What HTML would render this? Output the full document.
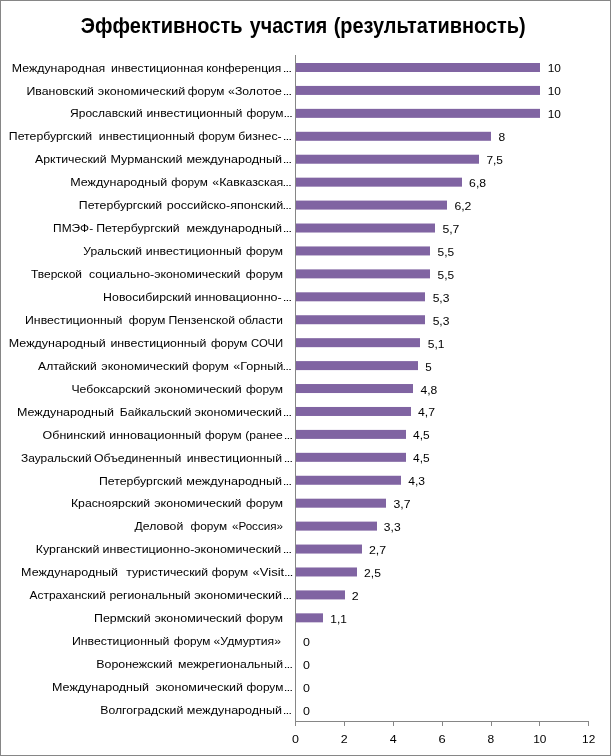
<!DOCTYPE html>
<html lang="ru"><head><meta charset="utf-8"><title>Эффективность участия (результативность)</title>
<style>html,body{margin:0;padding:0;background:#fff}svg{display:block}text{white-space:pre;font-family:"Liberation Sans",Arial,sans-serif;fill:#000}.l{font-size:10.8px}.e{font-size:7.5px;font-weight:bold}.t{font-size:21.3px;font-weight:bold}</style></head><body>
<svg width="611" height="756" viewBox="0 0 611 756">
<rect x="0" y="0" width="611" height="756" fill="#fff"/>
<rect x="0.5" y="0.5" width="610" height="755" fill="none" stroke="#868686" stroke-width="1"/>
<!-- title -->
<text class="t" y="33"><tspan x="80.79" textLength="161.75" lengthAdjust="spacingAndGlyphs">Эффективность</tspan> <tspan x="249.80" textLength="77.43" lengthAdjust="spacingAndGlyphs">участия</tspan> <tspan x="333.67" textLength="191.95" lengthAdjust="spacingAndGlyphs">(результативность)</tspan></text>
<!-- bars -->
<g fill="#8064a2">
<rect x="296" y="63.00" width="244" height="9"/>
<rect x="296" y="85.93" width="244" height="9"/>
<rect x="296" y="108.86" width="244" height="9"/>
<rect x="296" y="131.79" width="195" height="9"/>
<rect x="296" y="154.72" width="183" height="9"/>
<rect x="296" y="177.66" width="166" height="9"/>
<rect x="296" y="200.59" width="151" height="9"/>
<rect x="296" y="223.52" width="139" height="9"/>
<rect x="296" y="246.45" width="134" height="9"/>
<rect x="296" y="269.38" width="134" height="9"/>
<rect x="296" y="292.31" width="129" height="9"/>
<rect x="296" y="315.24" width="129" height="9"/>
<rect x="296" y="338.17" width="124" height="9"/>
<rect x="296" y="361.10" width="122" height="9"/>
<rect x="296" y="384.03" width="117" height="9"/>
<rect x="296" y="406.97" width="115" height="9"/>
<rect x="296" y="429.90" width="110" height="9"/>
<rect x="296" y="452.83" width="110" height="9"/>
<rect x="296" y="475.76" width="105" height="9"/>
<rect x="296" y="498.69" width="90" height="9"/>
<rect x="296" y="521.62" width="81" height="9"/>
<rect x="296" y="544.55" width="66" height="9"/>
<rect x="296" y="567.48" width="61" height="9"/>
<rect x="296" y="590.41" width="49" height="9"/>
<rect x="296" y="613.34" width="27" height="9"/>
</g>
<!-- axes -->
<g fill="#868686">
<rect x="295" y="55" width="1" height="671"/>
<rect x="295" y="721" width="294" height="1"/>
<rect x="344" y="721" width="1" height="5"/>
<rect x="393" y="721" width="1" height="5"/>
<rect x="442" y="721" width="1" height="5"/>
<rect x="491" y="721" width="1" height="5"/>
<rect x="539" y="721" width="1" height="5"/>
<rect x="588" y="721" width="1" height="5"/>
</g>
<!-- category labels, value labels -->
<g>
<text class="l" y="72"><tspan x="11.84" textLength="93.46" lengthAdjust="spacingAndGlyphs">Международная</tspan> <tspan x="110.99" textLength="92.40" lengthAdjust="spacingAndGlyphs">инвестиционная</tspan> <tspan x="206.15" textLength="75.04" lengthAdjust="spacingAndGlyphs">конференция</tspan> <tspan class="e" x="282.98" textLength="8.85" lengthAdjust="spacingAndGlyphs">…</tspan></text>
<text class="l" x="547.70" y="72" textLength="13.21" lengthAdjust="spacingAndGlyphs">10</text>
</g>
<g>
<text class="l" y="95"><tspan x="26.54" textLength="67.41" lengthAdjust="spacingAndGlyphs">Ивановский</tspan> <tspan x="97.77" textLength="87.35" lengthAdjust="spacingAndGlyphs">экономический</tspan> <tspan x="187.70" textLength="36.59" lengthAdjust="spacingAndGlyphs">форум</tspan> <tspan x="228.14" textLength="53.66" lengthAdjust="spacingAndGlyphs">«Золотое</tspan> <tspan class="e" x="282.98" textLength="8.85" lengthAdjust="spacingAndGlyphs">…</tspan></text>
<text class="l" x="547.70" y="95" textLength="13.21" lengthAdjust="spacingAndGlyphs">10</text>
</g>
<g>
<text class="l" y="117"><tspan x="70.14" textLength="72.54" lengthAdjust="spacingAndGlyphs">Ярославский</tspan> <tspan x="146.48" textLength="95.93" lengthAdjust="spacingAndGlyphs">инвестиционный</tspan> <tspan x="246.40" textLength="36.95" lengthAdjust="spacingAndGlyphs">форум</tspan> <tspan class="e" x="283.83" textLength="8.85" lengthAdjust="spacingAndGlyphs">…</tspan></text>
<text class="l" x="547.70" y="118" textLength="13.21" lengthAdjust="spacingAndGlyphs">10</text>
</g>
<g>
<text class="l" y="140"><tspan x="8.84" textLength="83.39" lengthAdjust="spacingAndGlyphs">Петербургский</tspan> <tspan x="98.85" textLength="95.93" lengthAdjust="spacingAndGlyphs">инвестиционный</tspan> <tspan x="198.47" textLength="36.59" lengthAdjust="spacingAndGlyphs">форум</tspan> <tspan x="238.28" textLength="43.47" lengthAdjust="spacingAndGlyphs">бизнес-</tspan> <tspan class="e" x="282.98" textLength="8.85" lengthAdjust="spacingAndGlyphs">…</tspan></text>
<text class="l" x="498.60" y="141" textLength="6.70" lengthAdjust="spacingAndGlyphs">8</text>
</g>
<g>
<text class="l" y="163"><tspan x="35.10" textLength="71.51" lengthAdjust="spacingAndGlyphs">Арктический</tspan> <tspan x="110.40" textLength="72.28" lengthAdjust="spacingAndGlyphs">Мурманский</tspan> <tspan x="186.45" textLength="95.58" lengthAdjust="spacingAndGlyphs">международный</tspan> <tspan class="e" x="282.98" textLength="8.85" lengthAdjust="spacingAndGlyphs">…</tspan></text>
<text class="l" x="486.42" y="164" textLength="16.54" lengthAdjust="spacingAndGlyphs">7,5</text>
</g>
<g>
<text class="l" y="186"><tspan x="70.22" textLength="96.99" lengthAdjust="spacingAndGlyphs">Международный</tspan> <tspan x="171.26" textLength="36.59" lengthAdjust="spacingAndGlyphs">форум</tspan> <tspan x="212.25" textLength="71.05" lengthAdjust="spacingAndGlyphs">«Кавказская</tspan> <tspan class="e" x="282.88" textLength="8.85" lengthAdjust="spacingAndGlyphs">…</tspan></text>
<text class="l" x="469.10" y="187" textLength="16.99" lengthAdjust="spacingAndGlyphs">6,8</text>
</g>
<g>
<text class="l" y="209"><tspan x="78.84" textLength="83.39" lengthAdjust="spacingAndGlyphs">Петербургский</tspan> <tspan x="166.76" textLength="116.57" lengthAdjust="spacingAndGlyphs">российско-японский</tspan> <tspan class="e" x="282.88" textLength="8.85" lengthAdjust="spacingAndGlyphs">…</tspan></text>
<text class="l" x="454.45" y="210" textLength="16.99" lengthAdjust="spacingAndGlyphs">6,2</text>
</g>
<g>
<text class="l" y="232"><tspan x="53.07" textLength="40.10" lengthAdjust="spacingAndGlyphs">ПМЭФ-</tspan> <tspan x="96.30" textLength="83.39" lengthAdjust="spacingAndGlyphs">Петербургский</tspan> <tspan x="186.53" textLength="95.51" lengthAdjust="spacingAndGlyphs">международный</tspan> <tspan class="e" x="282.98" textLength="8.85" lengthAdjust="spacingAndGlyphs">…</tspan></text>
<text class="l" x="442.43" y="233" textLength="17.00" lengthAdjust="spacingAndGlyphs">5,7</text>
</g>
<g>
<text class="l" y="255"><tspan x="83.31" textLength="58.71" lengthAdjust="spacingAndGlyphs">Уральский</tspan> <tspan x="145.84" textLength="95.93" lengthAdjust="spacingAndGlyphs">инвестиционный</tspan> <tspan x="246.01" textLength="37.04" lengthAdjust="spacingAndGlyphs">форум</tspan></text>
<text class="l" x="437.55" y="256" textLength="16.56" lengthAdjust="spacingAndGlyphs">5,5</text>
</g>
<g>
<text class="l" y="278"><tspan x="31.01" textLength="50.97" lengthAdjust="spacingAndGlyphs">Тверской</tspan> <tspan x="88.94" textLength="151.34" lengthAdjust="spacingAndGlyphs">социально-экономический</tspan> <tspan x="245.86" textLength="37.19" lengthAdjust="spacingAndGlyphs">форум</tspan></text>
<text class="l" x="437.55" y="279" textLength="16.56" lengthAdjust="spacingAndGlyphs">5,5</text>
</g>
<g>
<text class="l" y="301"><tspan x="103.14" textLength="88.20" lengthAdjust="spacingAndGlyphs">Новосибирский</tspan> <tspan x="194.51" textLength="87.24" lengthAdjust="spacingAndGlyphs">инновационно-</tspan> <tspan class="e" x="282.98" textLength="8.85" lengthAdjust="spacingAndGlyphs">…</tspan></text>
<text class="l" x="432.67" y="302" textLength="16.78" lengthAdjust="spacingAndGlyphs">5,3</text>
</g>
<g>
<text class="l" y="324"><tspan x="25.04" textLength="97.45" lengthAdjust="spacingAndGlyphs">Инвестиционный</tspan> <tspan x="128.82" textLength="36.59" lengthAdjust="spacingAndGlyphs">форум</tspan> <tspan x="168.53" textLength="66.62" lengthAdjust="spacingAndGlyphs">Пензенской</tspan> <tspan x="238.40" textLength="44.60" lengthAdjust="spacingAndGlyphs">области</tspan></text>
<text class="l" x="432.67" y="325" textLength="16.78" lengthAdjust="spacingAndGlyphs">5,3</text>
</g>
<g>
<text class="l" y="347"><tspan x="8.82" textLength="96.99" lengthAdjust="spacingAndGlyphs">Международный</tspan> <tspan x="110.41" textLength="95.93" lengthAdjust="spacingAndGlyphs">инвестиционный</tspan> <tspan x="210.92" textLength="36.59" lengthAdjust="spacingAndGlyphs">форум</tspan> <tspan x="251.13" textLength="32.05" lengthAdjust="spacingAndGlyphs">СОЧИ</tspan></text>
<text class="l" x="427.78" y="348" textLength="16.78" lengthAdjust="spacingAndGlyphs">5,1</text>
</g>
<g>
<text class="l" y="370"><tspan x="38.10" textLength="58.76" lengthAdjust="spacingAndGlyphs">Алтайский</tspan> <tspan x="101.33" textLength="87.35" lengthAdjust="spacingAndGlyphs">экономический</tspan> <tspan x="192.32" textLength="36.59" lengthAdjust="spacingAndGlyphs">форум</tspan> <tspan x="233.22" textLength="50.12" lengthAdjust="spacingAndGlyphs">«Горный</tspan> <tspan class="e" x="282.88" textLength="8.85" lengthAdjust="spacingAndGlyphs">…</tspan></text>
<text class="l" x="425.35" y="371" textLength="6.46" lengthAdjust="spacingAndGlyphs">5</text>
</g>
<g>
<text class="l" y="393"><tspan x="71.45" textLength="78.84" lengthAdjust="spacingAndGlyphs">Чебоксарский</tspan> <tspan x="154.38" textLength="87.35" lengthAdjust="spacingAndGlyphs">экономический</tspan> <tspan x="245.97" textLength="37.08" lengthAdjust="spacingAndGlyphs">форум</tspan></text>
<text class="l" x="420.44" y="394" textLength="16.80" lengthAdjust="spacingAndGlyphs">4,8</text>
</g>
<g>
<text class="l" y="416"><tspan x="16.92" textLength="96.99" lengthAdjust="spacingAndGlyphs">Международный</tspan> <tspan x="119.85" textLength="71.65" lengthAdjust="spacingAndGlyphs">Байкальский</tspan> <tspan x="194.60" textLength="87.43" lengthAdjust="spacingAndGlyphs">экономический</tspan> <tspan class="e" x="282.98" textLength="8.85" lengthAdjust="spacingAndGlyphs">…</tspan></text>
<text class="l" x="417.99" y="416" textLength="17.02" lengthAdjust="spacingAndGlyphs">4,7</text>
</g>
<g>
<text class="l" y="439"><tspan x="42.62" textLength="63.03" lengthAdjust="spacingAndGlyphs">Обнинский</tspan> <tspan x="109.23" textLength="91.90" lengthAdjust="spacingAndGlyphs">инновационный</tspan> <tspan x="204.95" textLength="36.59" lengthAdjust="spacingAndGlyphs">форум</tspan> <tspan x="245.26" textLength="37.53" lengthAdjust="spacingAndGlyphs">(ранее</tspan> <tspan class="e" x="283.98" textLength="8.85" lengthAdjust="spacingAndGlyphs">…</tspan></text>
<text class="l" x="413.11" y="439" textLength="16.59" lengthAdjust="spacingAndGlyphs">4,5</text>
</g>
<g>
<text class="l" y="462"><tspan x="21.03" textLength="70.62" lengthAdjust="spacingAndGlyphs">Зауральский</tspan> <tspan x="93.99" textLength="87.37" lengthAdjust="spacingAndGlyphs">Объединенный</tspan> <tspan x="186.75" textLength="95.27" lengthAdjust="spacingAndGlyphs">инвестиционный</tspan> <tspan class="e" x="283.98" textLength="8.85" lengthAdjust="spacingAndGlyphs">…</tspan></text>
<text class="l" x="413.11" y="462" textLength="16.59" lengthAdjust="spacingAndGlyphs">4,5</text>
</g>
<g>
<text class="l" y="485"><tspan x="98.94" textLength="83.39" lengthAdjust="spacingAndGlyphs">Петербургский</tspan> <tspan x="186.34" textLength="95.70" lengthAdjust="spacingAndGlyphs">международный</tspan> <tspan class="e" x="282.98" textLength="8.85" lengthAdjust="spacingAndGlyphs">…</tspan></text>
<text class="l" x="408.23" y="485" textLength="16.80" lengthAdjust="spacingAndGlyphs">4,3</text>
</g>
<g>
<text class="l" y="507"><tspan x="70.94" textLength="79.14" lengthAdjust="spacingAndGlyphs">Красноярский</tspan> <tspan x="154.26" textLength="87.35" lengthAdjust="spacingAndGlyphs">экономический</tspan> <tspan x="245.93" textLength="37.12" lengthAdjust="spacingAndGlyphs">форум</tspan></text>
<text class="l" x="393.59" y="508" textLength="17.00" lengthAdjust="spacingAndGlyphs">3,7</text>
</g>
<g>
<text class="l" y="530"><tspan x="134.50" textLength="48.74" lengthAdjust="spacingAndGlyphs">Деловой</tspan> <tspan x="190.45" textLength="36.59" lengthAdjust="spacingAndGlyphs">форум</tspan> <tspan x="231.91" textLength="51.17" lengthAdjust="spacingAndGlyphs">«Россия»</tspan></text>
<text class="l" x="383.83" y="531" textLength="16.78" lengthAdjust="spacingAndGlyphs">3,3</text>
</g>
<g>
<text class="l" y="553"><tspan x="35.83" textLength="63.65" lengthAdjust="spacingAndGlyphs">Курганский</tspan> <tspan x="102.60" textLength="178.62" lengthAdjust="spacingAndGlyphs">инвестиционно-экономический</tspan> <tspan class="e" x="282.98" textLength="8.85" lengthAdjust="spacingAndGlyphs">…</tspan></text>
<text class="l" x="368.97" y="554" textLength="17.21" lengthAdjust="spacingAndGlyphs">2,7</text>
</g>
<g>
<text class="l" y="576"><tspan x="21.12" textLength="96.99" lengthAdjust="spacingAndGlyphs">Международный</tspan> <tspan x="126.36" textLength="81.71" lengthAdjust="spacingAndGlyphs">туристический</tspan> <tspan x="211.67" textLength="36.59" lengthAdjust="spacingAndGlyphs">форум</tspan> <tspan x="252.59" textLength="31.66" lengthAdjust="spacingAndGlyphs">«Visit</tspan> <tspan class="e" x="284.28" textLength="8.85" lengthAdjust="spacingAndGlyphs">…</tspan></text>
<text class="l" x="364.10" y="577" textLength="16.76" lengthAdjust="spacingAndGlyphs">2,5</text>
</g>
<g>
<text class="l" y="599"><tspan x="29.50" textLength="76.34" lengthAdjust="spacingAndGlyphs">Астраханский</tspan> <tspan x="109.41" textLength="81.22" lengthAdjust="spacingAndGlyphs">региональный</tspan> <tspan x="194.15" textLength="87.89" lengthAdjust="spacingAndGlyphs">экономический</tspan> <tspan class="e" x="282.98" textLength="8.85" lengthAdjust="spacingAndGlyphs">…</tspan></text>
<text class="l" x="351.87" y="600" textLength="6.92" lengthAdjust="spacingAndGlyphs">2</text>
</g>
<g>
<text class="l" y="622"><tspan x="94.03" textLength="56.62" lengthAdjust="spacingAndGlyphs">Пермский</tspan> <tspan x="154.42" textLength="87.35" lengthAdjust="spacingAndGlyphs">экономический</tspan> <tspan x="245.98" textLength="37.07" lengthAdjust="spacingAndGlyphs">форум</tspan></text>
<text class="l" x="330.36" y="623" textLength="16.52" lengthAdjust="spacingAndGlyphs">1,1</text>
</g>
<g>
<text class="l" y="645"><tspan x="71.94" textLength="97.45" lengthAdjust="spacingAndGlyphs">Инвестиционный</tspan> <tspan x="173.70" textLength="36.59" lengthAdjust="spacingAndGlyphs">форум</tspan> <tspan x="213.59" textLength="67.40" lengthAdjust="spacingAndGlyphs">«Удмуртия»</tspan></text>
<text class="l" x="303.02" y="646" textLength="6.95" lengthAdjust="spacingAndGlyphs">0</text>
</g>
<g>
<text class="l" y="668"><tspan x="96.23" textLength="76.37" lengthAdjust="spacingAndGlyphs">Воронежский</tspan> <tspan x="178.11" textLength="104.91" lengthAdjust="spacingAndGlyphs">межрегиональный</tspan> <tspan class="e" x="283.98" textLength="8.85" lengthAdjust="spacingAndGlyphs">…</tspan></text>
<text class="l" x="303.02" y="669" textLength="6.95" lengthAdjust="spacingAndGlyphs">0</text>
</g>
<g>
<text class="l" y="691"><tspan x="52.02" textLength="96.99" lengthAdjust="spacingAndGlyphs">Международный</tspan> <tspan x="155.60" textLength="87.35" lengthAdjust="spacingAndGlyphs">экономический</tspan> <tspan x="246.53" textLength="36.81" lengthAdjust="spacingAndGlyphs">форум</tspan> <tspan class="e" x="283.98" textLength="8.85" lengthAdjust="spacingAndGlyphs">…</tspan></text>
<text class="l" x="303.02" y="692" textLength="6.95" lengthAdjust="spacingAndGlyphs">0</text>
</g>
<g>
<text class="l" y="714"><tspan x="100.25" textLength="82.98" lengthAdjust="spacingAndGlyphs">Волгоградский</tspan> <tspan x="186.80" textLength="95.23" lengthAdjust="spacingAndGlyphs">международный</tspan> <tspan class="e" x="282.98" textLength="8.85" lengthAdjust="spacingAndGlyphs">…</tspan></text>
<text class="l" x="303.02" y="715" textLength="6.95" lengthAdjust="spacingAndGlyphs">0</text>
</g>
<!-- axis tick labels -->
<text class="l" x="291.94" y="743" textLength="6.95" lengthAdjust="spacingAndGlyphs">0</text>
<text class="l" x="340.79" y="743" textLength="6.92" lengthAdjust="spacingAndGlyphs">2</text>
<text class="l" x="389.81" y="743" textLength="6.97" lengthAdjust="spacingAndGlyphs">4</text>
<text class="l" x="438.45" y="743" textLength="7.17" lengthAdjust="spacingAndGlyphs">6</text>
<text class="l" x="487.52" y="743" textLength="6.70" lengthAdjust="spacingAndGlyphs">8</text>
<text class="l" x="533.24" y="743" textLength="13.21" lengthAdjust="spacingAndGlyphs">10</text>
<text class="l" x="582.08" y="743" textLength="13.19" lengthAdjust="spacingAndGlyphs">12</text>
</svg></body></html>
